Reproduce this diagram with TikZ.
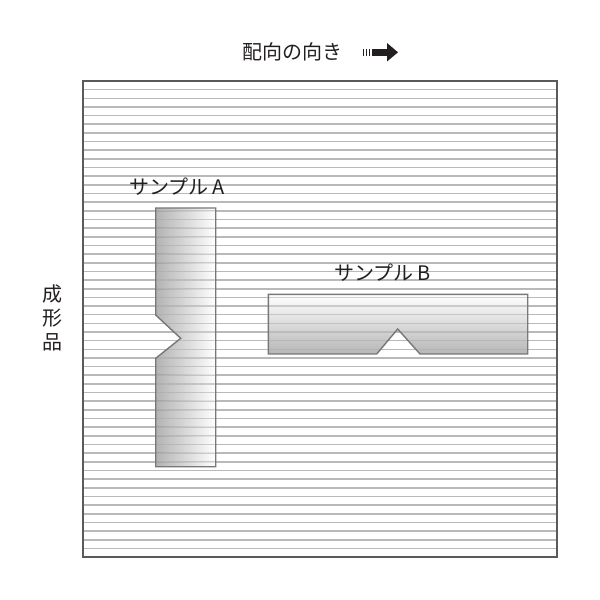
\documentclass[tikz,border=0pt]{standalone}
\usepackage{fontspec}
\setmainfont{Noto Sans CJK JP}
\usetikzlibrary{shapes.geometric}
\definecolor{ink}{RGB}{35,31,32}
\definecolor{hl}{RGB}{185,185,185}
\definecolor{frame}{RGB}{90,90,90}
\definecolor{sborder}{RGB}{120,120,120}
\tikzset{
  lbl/.style={text=ink,inner sep=0pt,font=\fontsize{20}{24}\selectfont},
  hline/.style={draw=hl,line width=1.6pt},
  sample/.style={fill opacity=0.75},
}
\begin{document}
\begin{tikzpicture}[x=1pt,y=-1pt]
\useasboundingbox (0,0) rectangle (600,600);
% stripes
\foreach \i in {1,...,54}{
  \draw[hline] (84,{81+\i*8.655}) -- (556,{81+\i*8.655});
}
% frame
\draw[draw=frame,line width=1.2pt] (83,81) rectangle (557,557);
% sample A
\path[sample,left color=black!40,right color=white]
  (155.7,208) -- (215.7,208) -- (215.7,466.7) -- (155.7,466.7) -- (155.7,358.3) -- (180.7,338.3) -- (155.7,315) -- cycle;
\foreach \i in {15,...,44}{
  \draw[draw=hl,line width=1.2pt,opacity=0.55] (156.5,{81+\i*8.655}) -- (215,{81+\i*8.655});
}
\draw[draw=sborder,line width=1.4pt]
  (155.7,208) -- (215.7,208) -- (215.7,466.7) -- (155.7,466.7) -- (155.7,358.3) -- (180.7,338.3) -- (155.7,315) -- cycle;
% sample B
\path[sample,top color=white,bottom color=black!38]
  (268.3,294.3) -- (527.7,294.3) -- (527.7,354) -- (420,354) -- (397.7,329) -- (376.7,354) -- (268.3,354) -- cycle;
\foreach \i in {25,...,31}{
  \draw[draw=hl,line width=1.2pt,opacity=0.55] (269,{81+\i*8.655}) -- (527,{81+\i*8.655});
}
\draw[draw=sborder,line width=1.4pt]
  (268.3,294.3) -- (527.7,294.3) -- (527.7,354) -- (420,354) -- (397.7,329) -- (376.7,354) -- (268.3,354) -- cycle;
% labels
\node[lbl,anchor=west] (dir) at (242,52) {配向の向き};
\node[lbl,anchor=west] (sa) at (129,187) {サンプル\hspace{4pt}A};
\node[lbl,anchor=west] (sb) at (334,273) {サンプル\hspace{4pt}B};
\node[lbl] (c1) at (52,294) {成};
\node[lbl] (c2) at (52,318) {形};
\node[lbl] (c3) at (52,342) {品};
% arrow icon
\fill[ink] (362.5,49) rectangle (364,55.5);
\fill[ink] (365.5,49) rectangle (367,55.5);
\fill[ink] (368.5,49) rectangle (370,55.5);
\fill[ink] (371.5,48.5) rectangle (388,56) ;
\fill[ink] (387,43) -- (398,52.3) -- (387,61.5) -- cycle;
\end{tikzpicture}
\end{document}
